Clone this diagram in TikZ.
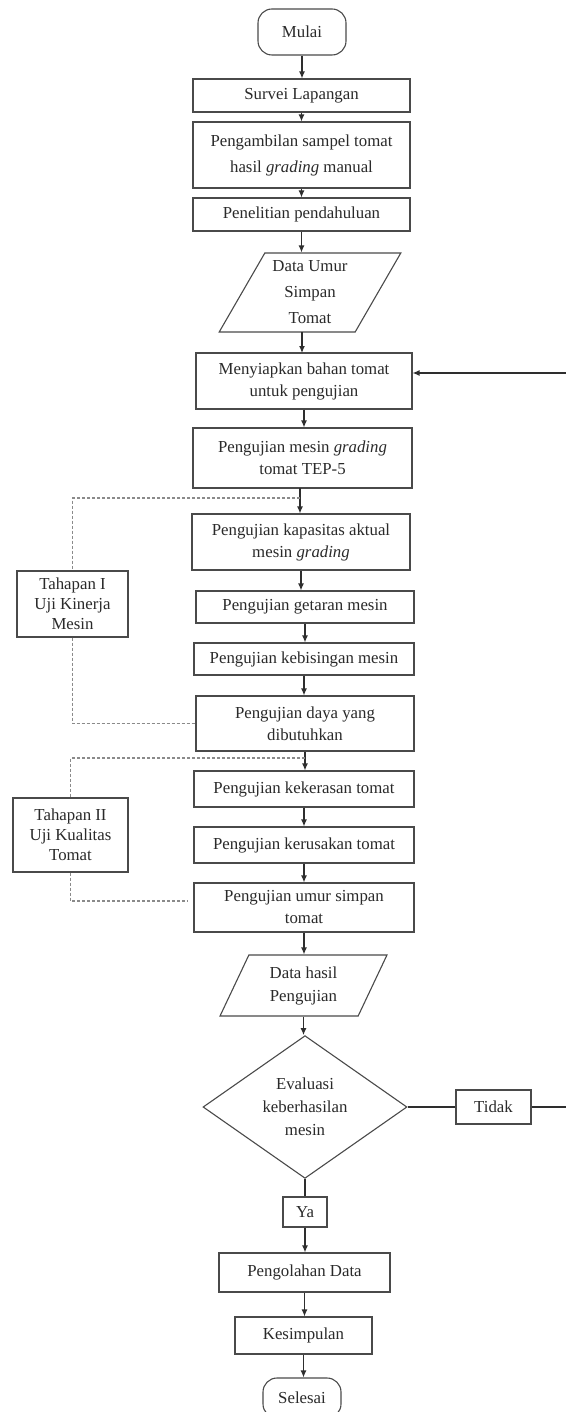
\documentclass[tikz,border=0pt]{standalone}
\usepackage{fontspec}
\setmainfont{Liberation Serif}
\usetikzlibrary{arrows.meta,shapes.geometric,calc}
\definecolor{boxc}{HTML}{4A4A4A}
\definecolor{linec}{HTML}{2E2E2E}
\definecolor{dotc}{HTML}{8A8A8A}
\definecolor{txtc}{HTML}{2A2A2A}
\begin{document}
\begin{tikzpicture}[x=1pt,y=-1pt,
  every node/.style={font=\fontsize{16.8}{22}\selectfont, text=txtc},
  box/.style={draw=boxc, line width=1.1pt, inner sep=0pt, align=center},
  term/.style={box, rounded corners=14pt},
  para/.style={box, trapezium, trapezium stretches=true},
  dec/.style={box, diamond},
  conn/.style={draw=linec, line width=1.2pt},
  arr/.style={conn, -{Latex[length=7pt,width=6pt]}},
  dotl/.style={draw=dotc, line width=1.1pt, dash pattern=on 3pt off 2pt}
]
\fill[white] (0,0) rectangle (565,1412);
\useasboundingbox (0,0) rectangle (565,1412);

% main flow
\node[term, minimum width=88, minimum height=46] (mulai) at (302,32) {Mulai};
\node[box, minimum width=217, minimum height=33] (survei) at (301.5,95.5) {Survei Lapangan};
\node[box, minimum width=217, minimum height=66, font=\fontsize{16.8}{26}\selectfont] (ambil) at (301.5,155) {Pengambilan sampel tomat\\hasil \textit{grading} manual};
\node[box, minimum width=217, minimum height=33] (penelitian) at (301.5,214.5) {Penelitian pendahuluan};
\node[para, trapezium left angle=59, trapezium right angle=121, minimum width=182, minimum height=79, font=\fontsize{16.8}{26}\selectfont] (dataumur) at (310,292.5) {Data Umur\\Simpan\\Tomat};
\node[box, minimum width=216, minimum height=56] (siap) at (304,381) {Menyiapkan bahan tomat\\untuk pengujian};
\node[box, minimum width=219, minimum height=60] (mesin) at (302.5,458) {Pengujian mesin \textit{grading}\\tomat TEP-5};
\node[box, minimum width=218, minimum height=56] (kapasitas) at (301,542) {Pengujian kapasitas aktual\\mesin \textit{grading}};
\node[box, minimum width=218, minimum height=32] (getaran) at (305,607) {Pengujian getaran mesin};
\node[box, minimum width=220, minimum height=32] (bising) at (304,659) {Pengujian kebisingan mesin};
\node[box, minimum width=218, minimum height=55] (daya) at (305,723.5) {Pengujian daya yang\\dibutuhkan};
\node[box, minimum width=220, minimum height=36] (keras) at (304,789) {Pengujian kekerasan tomat};
\node[box, minimum width=220, minimum height=36] (rusak) at (304,845) {Pengujian kerusakan tomat};
\node[box, minimum width=220, minimum height=49] (umur) at (304,907.5) {Pengujian umur simpan\\tomat};
\node[para, trapezium left angle=65, trapezium right angle=115, minimum width=167, minimum height=61, font=\fontsize{16.8}{23}\selectfont] (hasil) at (303.5,985.5) {Data hasil\\Pengujian};
\node[dec, minimum width=204, minimum height=141, font=\fontsize{16.8}{23}\selectfont] (eval) at (305,1107) {Evaluasi\\keberhasilan\\mesin};
\node[box, minimum width=75, minimum height=34] (tidak) at (493.5,1107) {Tidak};
\node[box, minimum width=44, minimum height=30] (ya) at (305,1212) {Ya};
\node[box, minimum width=171, minimum height=39] (olah) at (304.5,1272.5) {Pengolahan Data};
\node[box, minimum width=137, minimum height=37] (simpul) at (303.5,1335.5) {Kesimpulan};
\node[term, minimum width=78, minimum height=40] (selesai) at (302,1398) {Selesai};

% stage boxes
\node[box, minimum width=111, minimum height=66, font=\fontsize{16.8}{20}\selectfont] (tahap1) at (72.5,604) {Tahapan I\\Uji Kinerja\\Mesin};
\node[box, minimum width=115, minimum height=74, font=\fontsize{16.8}{20}\selectfont] (tahap2) at (70.5,835) {Tahapan II\\Uji Kualitas\\Tomat};

% main arrows
\draw[arr] (mulai.south) -- (mulai.south |- survei.north);
\draw[arr] (survei.south) -- (survei.south |- ambil.north);
\draw[arr] (ambil.south) -- (ambil.south |- penelitian.north);
\draw[arr] (penelitian.south) -- (penelitian.south |- dataumur.north);
\draw[arr] (302,332) -- (302,353) coordinate (siapin);
\draw[arr] (siap.south) -- (siap.south |- mesin.north);
\draw[arr] (300,488) -- (kapasitas.north -| 300,0);
\draw[arr] (kapasitas.south) -- (kapasitas.south |- getaran.north);
\draw[arr] (getaran.south) -- (getaran.south |- bising.north);
\draw[arr] (bising.south) -- (bising.south |- daya.north);
\draw[arr] (daya.south) -- (daya.south |- keras.north);
\draw[arr] (keras.south) -- (keras.south |- rusak.north);
\draw[arr] (rusak.south) -- (rusak.south |- umur.north);
\draw[arr] (umur.south) -- (umur.south |- hasil.north);
\draw[arr] (hasil.south) -- (hasil.south |- eval.north);
\draw[conn] (eval.south) -- (ya.north);
\draw[arr] (ya.south) -- (ya.south |- olah.north);
\draw[arr] (olah.south) -- (olah.south |- simpul.north);
\draw[arr] (simpul.south) -- (simpul.south |- selesai.north);

% feedback loop
\coordinate (rc1) at (568,1107);
\coordinate (rc2) at (568,373);
\draw[conn] (eval.east) -- (tidak.west);
\draw[conn] (tidak.east) -- (rc1) -- (rc2);
\draw[arr] (rc2) -- (siap.east |- rc2);

% stage dotted brackets
\coordinate (s1top) at (300,498);
\draw[dotl] (s1top) -| (tahap1.north);
\draw[dotl] (tahap1.south) |- (daya.west);
\coordinate (s2top) at (305,758);
\coordinate (s2end) at (188,901);
\draw[dotl] (s2top) -| (tahap2.north);
\draw[dotl] (tahap2.south) |- (s2end);
\end{tikzpicture}
\end{document}
